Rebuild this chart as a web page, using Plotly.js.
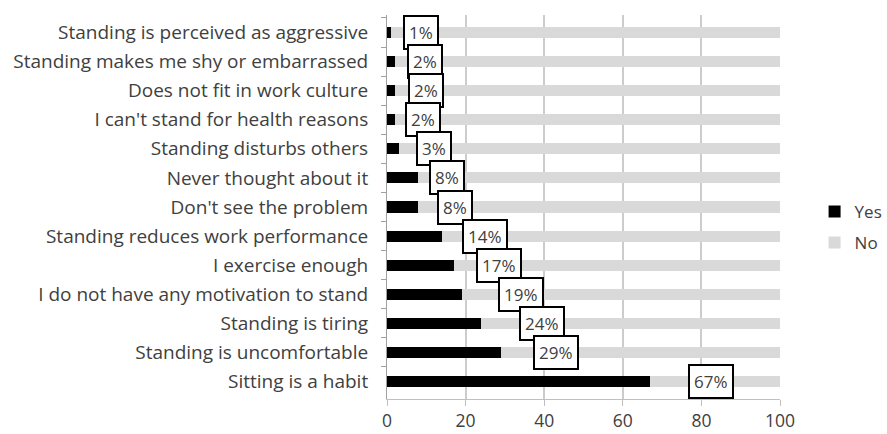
<!DOCTYPE html>
<html>
<head>
<meta charset="utf-8">
<script src="https://cdn.plot.ly/plotly-3.0.1.min.js"></script>
<style>html,body{margin:0;padding:0;background:#fff;}#chart{width:887px;height:434px;}</style>
</head>
<body>
<div id="chart"></div>
<script>
// Data (top to bottom as shown)
var categories = [
  "Standing is perceived as aggressive",
  "Standing makes me shy or embarrassed",
  "Does not fit in work culture",
  "I can't stand for health reasons",
  "Standing disturbs others",
  "Never thought about it",
  "Don't see the problem",
  "Standing reduces work performance",
  "I exercise enough",
  "I do not have any motivation to stand",
  "Standing is tiring",
  "Standing is uncomfortable",
  "Sitting is a habit"
];
var yesValues = [1, 2, 2, 2, 3, 8, 8, 14, 17, 19, 24, 29, 67];
var noValues = [99, 98, 98, 98, 97, 92, 92, 86, 83, 81, 76, 71, 33];
var labelTexts = ["1%", "2%", "2%", "2%", "3%", "8%", "8%", "14%", "17%", "19%", "24%", "29%", "67%"];
var xTicks = [0, 20, 40, 60, 80, 100];

// Styling: horizontal gap between bar end and its label box (axis units)
var labelGap = [7.7, 7.7, 7.9, 7.2, 8.9, 7.3, 9.3, 10.9, 11.4, 15.1, 15.4, 14.1, 15.4];

var font = "'Open Sans', sans-serif";
var textColor = "#404040";

var traces = [
  {type: "bar", orientation: "h", name: "Yes", y: categories, x: yesValues,
   marker: {color: "#000000"}, width: 0.38, legendgroup: "a", hoverinfo: "x+y"},
  {type: "bar", orientation: "h", name: "No", y: categories, x: noValues,
   marker: {color: "#d9d9d9"}, width: 0.38, legendgroup: "b", hoverinfo: "x+y"}
];

var annotations = categories.map(function(c, i) {
  return {
    x: yesValues[i] + labelGap[i], y: c, xref: "x", yref: "y",
    text: labelTexts[i], showarrow: false,
    font: {family: font, size: 17, color: textColor},
    bgcolor: "#ffffff", bordercolor: "#000000", borderwidth: 2, borderpad: 4
  };
});

var layout = {
  width: 887, height: 434,
  margin: {l: 387, r: 107, t: 15, b: 35, autoexpand: false},
  paper_bgcolor: "#ffffff", plot_bgcolor: "#ffffff",
  barmode: "stack",
  showlegend: true,
  legend: {x: 1.088, y: 0.447, xanchor: "left", yanchor: "middle",
           traceorder: "grouped", tracegroupgap: 6,
           font: {family: font, size: 17, color: textColor},
           bgcolor: "rgba(0,0,0,0)"},
  xaxis: {range: [0, 100], tickvals: xTicks, ticktext: xTicks.map(String),
          showgrid: true, gridcolor: "#cccccc", gridwidth: 2,
          showline: true, linecolor: "#c0c0c0", linewidth: 1,
          ticks: "outside", ticklen: 6, tickcolor: "#c0c0c0",
          zeroline: false, fixedrange: true,
          tickfont: {family: font, size: 17.5, color: textColor}},
  yaxis: {type: "category", autorange: "reversed",
          showgrid: false, showline: true, linecolor: "#a0a0a0", linewidth: 1,
          ticks: "outside", ticklen: 5, tickcolor: "#a0a0a0", tickson: "boundaries",
          ticklabelstandoff: 14,
          tickfont: {family: font, size: 19, color: textColor}, fixedrange: true},
  annotations: annotations
};

Plotly.newPlot("chart", traces, layout, {displayModeBar: false, staticPlot: true});
</script>
</body>
</html>
